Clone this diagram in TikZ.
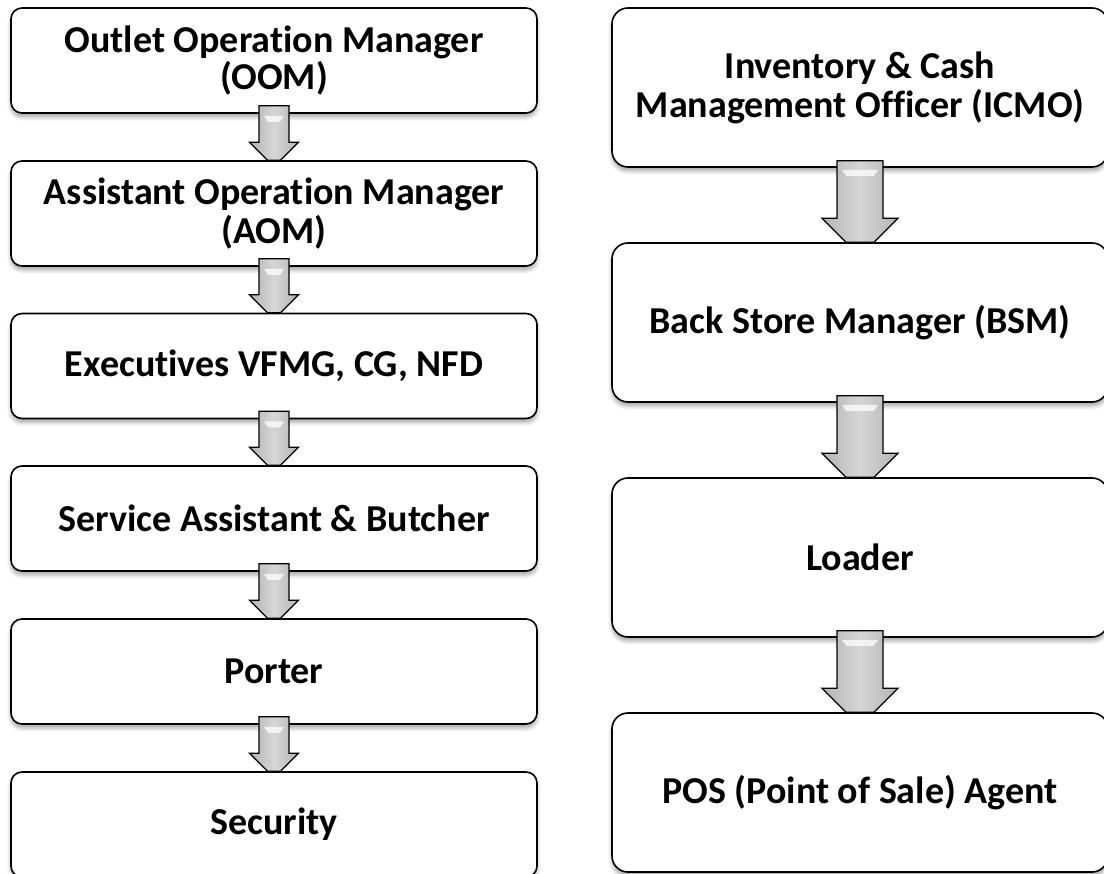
\documentclass[tikz,border=0pt]{standalone}
\usepackage{fontspec}
\setmainfont[Ligatures=NoCommon]{Carlito}
\usetikzlibrary{calc,shadows.blur}
\tikzset{
  box/.style={draw=black, line width=1.6pt, fill=white,
    align=center, inner sep=0pt,
    font=\bfseries\fontsize{38}{39}\selectfont,
    blur shadow={shadow xshift=0pt, shadow yshift=-4pt, shadow blur radius=4pt, shadow opacity=35}},
  lbox/.style={box, rounded corners=11pt, minimum width=526pt, minimum height=105pt},
  rbox/.style={box, rounded corners=16pt, minimum width=496pt, minimum height=159pt},
  blk/.style={draw=black, line width=1.3pt, line join=miter,
    left color=gray!60, right color=gray!60, middle color=gray!32},
  hilite/.style={fill=white, opacity=0.75, draw=none},
}
% from, to, shaft half width, head half width, cut half width, shaft overlap, head offset
\newcommand{\blockarr}[7]{%
  \draw[blk] ($(#1.south)+(-#3,-#6)$) -- ($(#2.north)+(-#3,-#7)$)
    -- ($(#2.north)+(-#4,-#7)$) -- ($(#2.north)+(-#5,0)$)
    -- ($(#2.north)+(#5,0)$) -- ($(#2.north)+(#4,-#7)$)
    -- ($(#2.north)+(#3,-#7)$) -- ($(#1.south)+(#3,-#6)$) -- cycle;
  \path[hilite] ($(#1.south)+(-#3+5,2)$) -- ($(#1.south)+(#3-5,2)$)
    -- ($(#1.south)+(#3-9,8)$) -- ($(#1.south)+(-#3+9,8)$) -- cycle;
}
\begin{document}
\begin{tikzpicture}[x=1pt,y=-1pt]
\useasboundingbox (0,0) rectangle (1104,874);
\clip (0,0) rectangle (1104,874);

% left column
\node[lbox] (L1) at (274,60.5)  {\raisebox{-2pt}{\shortstack{Outlet Operation Manager\\(OOM)}}};
\node[lbox] (L2) at (274,213.5) {Assistant Operation Manager\\(AOM)};
\node[lbox] (L3) at (274,366)   {Executives VFMG, CG, NFD};
\node[lbox] (L4) at (274,518.5) {Service Assistant \& Butcher};
\node[lbox] (L5) at (274,671.5) {Porter};
\node[lbox] (L6) at (274,824.5) {Security};

% right column
\node[rbox] (R1) at (860,87.5)  {Inventory \& Cash\\Management Officer (ICMO)};
\node[rbox] (R2) at (860,322.5) {Back Store Manager (BSM)};
\node[rbox] (R3) at (860,557.5) {Loader};
\node[rbox] (R4) at (860,792.5) {POS (Point of Sale) Agent};

% arrows
\blockarr{L1}{L2}{15}{24.5}{6.5}{8}{18}
\blockarr{L2}{L3}{15}{24.5}{6.5}{8}{18}
\blockarr{L3}{L4}{15}{24.5}{6.5}{8}{18}
\blockarr{L4}{L5}{15}{24.5}{6.5}{8}{18}
\blockarr{L5}{L6}{15}{24.5}{6.5}{8}{18}

\blockarr{R1}{R2}{23}{38}{14}{7}{24}
\blockarr{R2}{R3}{23}{38}{14}{7}{24}
\blockarr{R3}{R4}{23}{38}{14}{7}{24}
\end{tikzpicture}
\end{document}
